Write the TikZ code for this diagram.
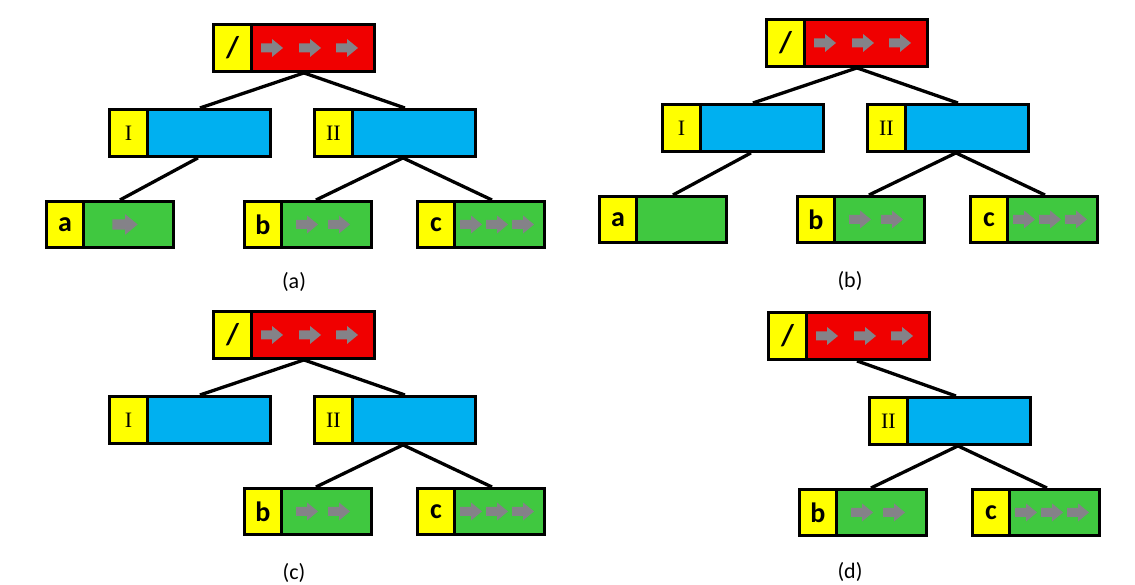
\documentclass[tikz,border=0pt]{standalone}
\usepackage{fontspec}
\setmainfont{Carlito}
\newfontfamily\numfont{Liberation Serif}
\definecolor{boxred}{RGB}{240,0,0}
\definecolor{boxyellow}{RGB}{255,255,0}
\definecolor{boxblue}{RGB}{0,176,240}
\definecolor{boxgreen}{RGB}{64,200,64}
\definecolor{arrowgray}{RGB}{132,130,136}

\tikzset{
  box/.style={draw=black, line width=2.9pt, inner sep=0pt, anchor=north west},
  rootbox/.style={box, fill=boxred, minimum width=161pt, minimum height=47pt},
  midbox/.style={box, fill=boxblue, minimum width=161pt, minimum height=47pt},
  leafbox/.style={box, fill=boxgreen, minimum width=127pt, minimum height=46pt},
  tagbox/.style={box, fill=boxyellow, minimum width=38pt, minimum height=47pt},
  slashtag/.style={tagbox, font=\fontsize{30}{30}\selectfont\bfseries},
  numtag/.style={tagbox, font=\numfont\fontsize{22}{22}\selectfont},
  leaftag/.style={box, fill=boxyellow, minimum width=37pt, minimum height=46pt,
    font=\fontsize{28}{28}\selectfont\bfseries},
  conn/.style={draw=black, line width=3.3pt},
  caption/.style={font=\fontsize{22}{22}\selectfont},
  pics/blk/.style={code={
    \fill[arrowgray] (-11,-4.5) -- (0,-4.5) -- (0,-9) -- (11,0) -- (0,9)
      -- (0,4.5) -- (-11,4.5) -- cycle;}}
}

\begin{document}
\begin{tikzpicture}[x=1pt,y=-1pt]
\fill[white] (0,0) rectangle (1135,584);
\useasboundingbox (0,0) rectangle (1135,584);

% ---------- tree (a) ----------
\node[rootbox] (aR) at (212,23) {};
\node[slashtag] (aRt) at (212,23) {/};
\foreach \d in {60,98,135} \path (aR.west) ++(\d,0) pic {blk};
\node[midbox] (aI) at (108,108) {};
\node[numtag] (aIt) at (108,108) {I};
\node[midbox] (aII) at (313,108) {};
\node[numtag] (aIIt) at (313,108) {II};
\node[leafbox] (aa) at (45,200) {};
\node[leaftag] (aat) at (45,200) {a};
\path (aa.west) ++(80,0) pic[scale=1.15] {blk};
\node[leafbox] (ab) at (243,200) {};
\node[leaftag] (abt) at (243,200) {b};
\foreach \d in {64,96} \path (ab.west) ++(\d,0) pic {blk};
\node[leafbox] (ac) at (416,200) {};
\node[leaftag] (act) at (416,200) {c};
\foreach \d in {55,81,107} \path (ac.west) ++(\d,0) pic {blk};
\draw[conn] ([xshift=10pt]aR.south) -- ([xshift=10pt]aI.north);
\draw[conn] ([xshift=10pt]aR.south) -- ([xshift=10pt]aII.north);
\draw[conn] ([xshift=8pt]aI.south) -- ([xshift=10pt]aa.north);
\draw[conn] ([xshift=8pt]aII.south) -- ([xshift=8pt]ab.north);
\draw[conn] ([xshift=8pt]aII.south) -- ([xshift=11pt]ac.north);
\node[caption] (capa) at (294,282) {(a)};

% ---------- tree (b) ----------
\node[rootbox] (bR) at (765,18) {};
\node[slashtag] (bRt) at (765,18) {/};
\foreach \d in {60,98,135} \path (bR.west) ++(\d,0) pic {blk};
\node[midbox] (bI) at (661,103) {};
\node[numtag] (bIt) at (661,103) {I};
\node[midbox] (bII) at (866,103) {};
\node[numtag] (bIIt) at (866,103) {II};
\node[leafbox] (ba) at (598,195) {};
\node[leaftag] (bat) at (598,195) {a};
\node[leafbox] (bb) at (796,195) {};
\node[leaftag] (bbt) at (796,195) {b};
\foreach \d in {64,96} \path (bb.west) ++(\d,0) pic {blk};
\node[leafbox] (bc) at (969,195) {};
\node[leaftag] (bct) at (969,195) {c};
\foreach \d in {55,81,107} \path (bc.west) ++(\d,0) pic {blk};
\draw[conn] ([xshift=10pt]bR.south) -- ([xshift=10pt]bI.north);
\draw[conn] ([xshift=10pt]bR.south) -- ([xshift=10pt]bII.north);
\draw[conn] ([xshift=8pt]bI.south) -- ([xshift=10pt]ba.north);
\draw[conn] ([xshift=8pt]bII.south) -- ([xshift=8pt]bb.north);
\draw[conn] ([xshift=8pt]bII.south) -- ([xshift=11pt]bc.north);
\node[caption] (capb) at (850,281) {(b)};

% ---------- tree (c) ----------
\node[rootbox] (cR) at (212,310) {};
\node[slashtag] (cRt) at (212,310) {/};
\foreach \d in {60,98,135} \path (cR.west) ++(\d,0) pic {blk};
\node[midbox] (cI) at (108,395) {};
\node[numtag] (cIt) at (108,395) {I};
\node[midbox] (cII) at (313,395) {};
\node[numtag] (cIIt) at (313,395) {II};
\node[leafbox] (cb) at (243,487) {};
\node[leaftag] (cbt) at (243,487) {b};
\foreach \d in {64,96} \path (cb.west) ++(\d,0) pic {blk};
\node[leafbox] (cc) at (416,487) {};
\node[leaftag] (cct) at (416,487) {c};
\foreach \d in {55,81,107} \path (cc.west) ++(\d,0) pic {blk};
\draw[conn] ([xshift=10pt]cR.south) -- ([xshift=10pt]cI.north);
\draw[conn] ([xshift=10pt]cR.south) -- ([xshift=10pt]cII.north);
\draw[conn] ([xshift=8pt]cII.south) -- ([xshift=8pt]cb.north);
\draw[conn] ([xshift=8pt]cII.south) -- ([xshift=11pt]cc.north);
\node[caption] (capc) at (294,573) {(c)};

% ---------- tree (d) ----------
\node[rootbox] (dR) at (767,311) {};
\node[slashtag] (dRt) at (767,311) {/};
\foreach \d in {60,98,135} \path (dR.west) ++(\d,0) pic {blk};
\node[midbox] (dII) at (868,396) {};
\node[numtag] (dIIt) at (868,396) {II};
\node[leafbox] (db) at (798,488) {};
\node[leaftag] (dbt) at (798,488) {b};
\foreach \d in {64,96} \path (db.west) ++(\d,0) pic {blk};
\node[leafbox] (dc) at (971,488) {};
\node[leaftag] (dct) at (971,488) {c};
\foreach \d in {55,81,107} \path (dc.west) ++(\d,0) pic {blk};
\draw[conn] ([xshift=8pt]dR.south) -- ([xshift=6pt]dII.north);
\draw[conn] ([xshift=8pt]dII.south) -- ([xshift=8pt]db.north);
\draw[conn] ([xshift=8pt]dII.south) -- ([xshift=11pt]dc.north);
\node[caption] (capd) at (850,572) {(d)};
\end{tikzpicture}
\end{document}
